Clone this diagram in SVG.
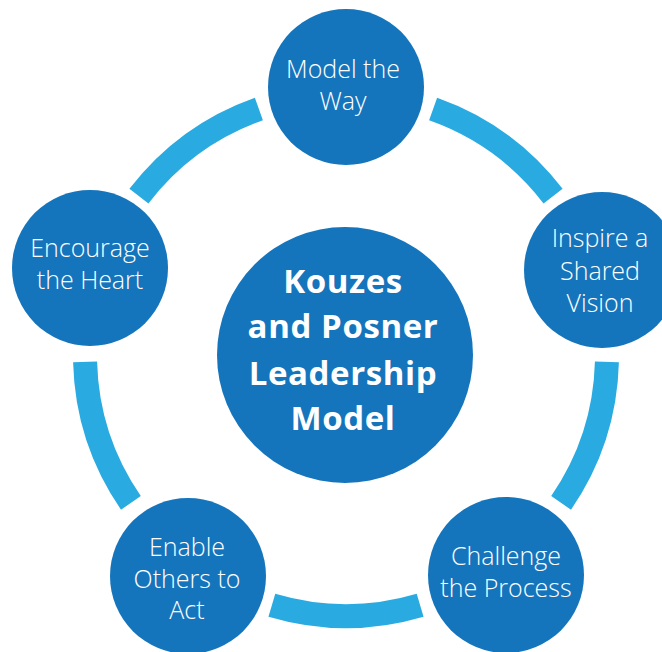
<svg xmlns="http://www.w3.org/2000/svg" width="662" height="652" viewBox="0 0 662 652">
<style>
.arc{fill:none;stroke:#29abe2;stroke-width:24;stroke-linecap:butt}
.node{fill:#1575bc}
.lbl{fill:#fff;font-family:"Open Sans","Liberation Sans",sans-serif;font-size:25px;font-weight:300;text-anchor:middle}
.title{fill:#fff;font-family:"Open Sans","Liberation Sans",sans-serif;font-size:33px;font-weight:700;text-anchor:middle;letter-spacing:0.6px}
</style>
<rect width="662" height="652" fill="#fff"/>
<g id="connectors">
<path class="arc" d="M433.12 108.97 A261 261 0 0 1 553.07 196.11"/>
<path class="arc" d="M606.91 361.83 A261 261 0 0 1 561.10 502.83"/>
<path class="arc" d="M420.13 605.25 A261 261 0 0 1 271.87 605.25"/>
<path class="arc" d="M130.90 502.83 A261 261 0 0 1 85.09 361.83"/>
<path class="arc" d="M138.93 196.11 A261 261 0 0 1 258.88 108.97"/>
</g>
<g id="center">
<circle class="node" cx="345" cy="355" r="128"/>
<text class="title"><tspan x="343" y="293">Kouzes</tspan><tspan x="343" y="338">and Posner</tspan><tspan x="343" y="385">Leadership</tspan><tspan x="343" y="430">Model</tspan></text>
</g>
<g id="model-the-way">
<circle class="node" cx="346" cy="87" r="78"/>
<text class="lbl"><tspan x="343" y="78">Model the</tspan><tspan x="343" y="110">Way</tspan></text>
</g>
<g id="inspire">
<circle class="node" cx="602" cy="270" r="78"/>
<text class="lbl"><tspan x="600" y="247">Inspire a</tspan><tspan x="600" y="280">Shared</tspan><tspan x="600" y="312">Vision</tspan></text>
</g>
<g id="challenge">
<circle class="node" cx="506" cy="575" r="78"/>
<text class="lbl"><tspan x="506" y="565">Challenge</tspan><tspan x="506" y="597">the Process</tspan></text>
</g>
<g id="enable">
<circle class="node" cx="188" cy="576" r="78"/>
<text class="lbl"><tspan x="187" y="556">Enable</tspan><tspan x="187" y="588">Others to</tspan><tspan x="187" y="619">Act</tspan></text>
</g>
<g id="encourage">
<circle class="node" cx="90" cy="268" r="78"/>
<text class="lbl"><tspan x="90" y="257">Encourage</tspan><tspan x="90" y="289">the Heart</tspan></text>
</g>
</svg>
